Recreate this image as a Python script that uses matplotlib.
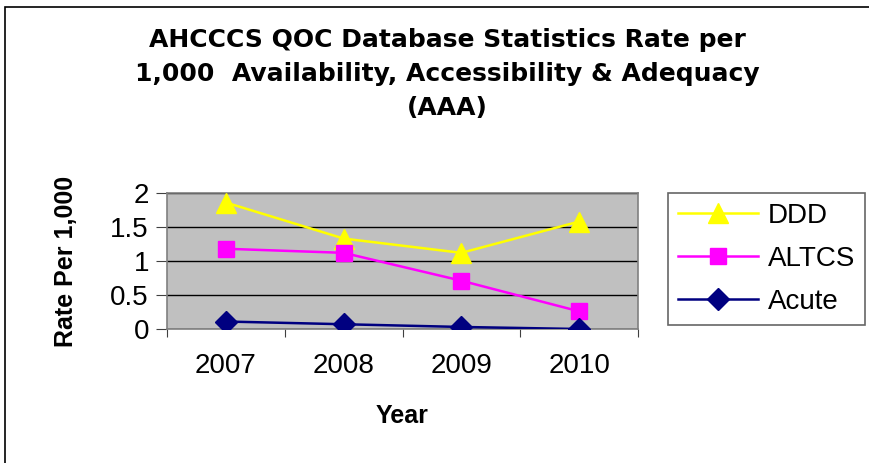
import matplotlib
matplotlib.use("Agg")
import matplotlib.pyplot as plt
from matplotlib.patches import Rectangle

plt.rcParams['font.family'] = ['Liberation Sans', 'DejaVu Sans']

years = ['2007', '2008', '2009', '2010']
ddd = [1.86, 1.33, 1.12, 1.58]
altcs = [1.18, 1.12, 0.71, 0.26]
acute = [0.11, 0.07, 0.03, 0.0]
y_ticks = [0, 0.5, 1, 1.5, 2]
y_tick_labels = ['0', '0.5', '1', '1.5', '2']

fig = plt.figure(figsize=(8.69, 4.63), dpi=100)

# outer chart border (only left and top visible in the reference)
fig.patches.append(Rectangle((5 / 869, -0.2), 1.2, 1.2 - 7 / 463,
                             transform=fig.transFigure, fill=False,
                             edgecolor='black', linewidth=1.2))

ax = fig.add_axes([167 / 869, (463 - 329) / 463, 471 / 869, 136 / 463])
ax.set_facecolor('#C0C0C0')

x = list(range(len(years)))
ax.plot(x, ddd, color='#FFFF00', lw=1.8, marker='^', ms=14, label='DDD', zorder=3)
ax.plot(x, altcs, color='#FF00FF', lw=1.8, marker='s', ms=11, label='ALTCS', zorder=3)
ax.plot(x, acute, color='#000080', lw=1.8, marker='D', ms=11, label='Acute', zorder=3)

ax.set_xlim(-0.5, len(years) - 0.5)
ax.set_ylim(0, 2)
ax.set_yticks(y_ticks)
ax.set_yticklabels(y_tick_labels)
ax.yaxis.grid(True, color='black', lw=1)
ax.set_axisbelow(True)

# category boundaries get the tick marks, labels sit in the middle
ax.set_xticks([i - 0.5 for i in range(len(years) + 1)])
ax.set_xticklabels([])
ax.set_xticks(x, minor=True)
ax.set_xticklabels(years, minor=True)
ax.tick_params(axis='x', which='minor', length=0, labelsize=20, pad=17)
ax.tick_params(axis='x', which='major', length=6, color='#404040')
ax.tick_params(axis='y', length=8, color='#404040', labelsize=20, pad=5)

for s in ax.spines.values():
    s.set_color('#808080')
    s.set_linewidth(1.2)

ax.set_xlabel('Year', fontsize=18, fontweight='bold', labelpad=18)
ax.set_ylabel('Rate Per 1,000', fontsize=18, fontweight='bold', labelpad=23)

fig.text(447 / 869, 1 - 74 / 463,
         'AHCCCS QOC Database Statistics Rate per\n'
         '1,000  Availability, Accessibility & Adequacy\n(AAA)',
         ha='center', va='center', fontsize=18, fontweight='bold',
         family=['DejaVu Sans'], linespacing=1.5)

leg = fig.legend(loc='upper left', bbox_to_anchor=(668 / 869, 1 - 193 / 463),
                 fontsize=20, frameon=True, fancybox=False, edgecolor='#404040',
                 handlelength=2.9, labelspacing=0.62, borderpad=0.35,
                 handletextpad=0.35, borderaxespad=0)
leg.get_frame().set_linewidth(1.2)

fig.savefig('out.png', dpi=100)
